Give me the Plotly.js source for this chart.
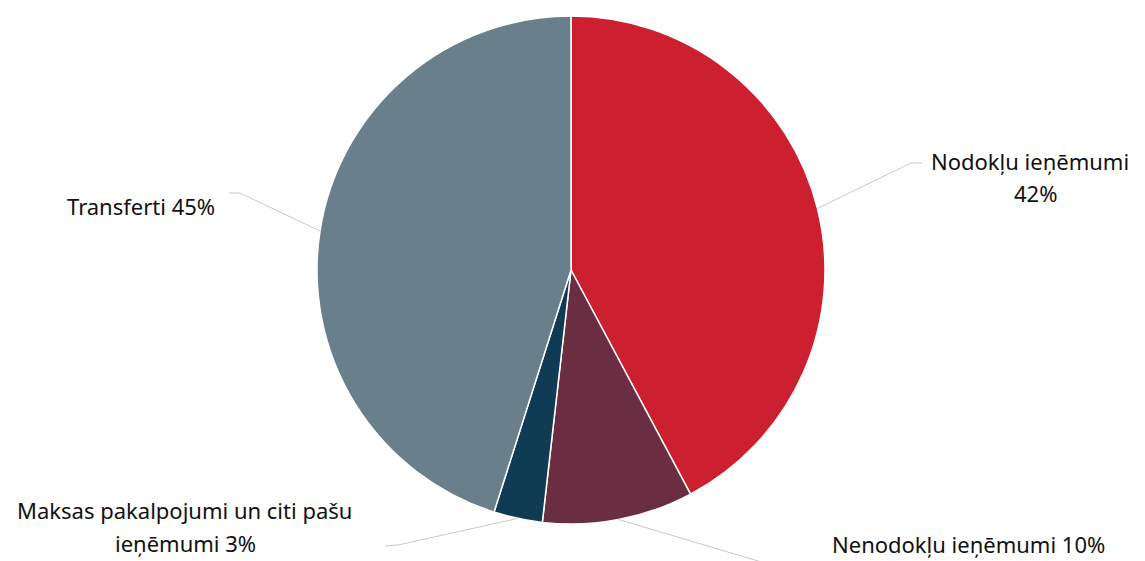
<!DOCTYPE html>
<html>
<head>
<meta charset="utf-8">
<script src="https://cdn.plot.ly/plotly-3.0.1.min.js"></script>
<style>
  html, body { margin: 0; padding: 0; background: #fff; }
  #chart { width: 1145px; height: 561px; }
</style>
</head>
<body>
<div id="chart"></div>
<script>
// Data
const categories = ['Nodokļu ieņēmumi', 'Nenodokļu ieņēmumi', 'Maksas pakalpojumi un citi pašu ieņēmumi', 'Transferti'];
const shares = [42.2, 9.6, 3.1, 45.1];
const colors = ['#CC1F30', '#6B2D42', '#0F3C54', '#6A7F8C'];

// layout constants (pixels)
const W = 1145, H = 561;
const cx = 571, cy = 270, R = 254;

const px = x => x / W;
const py = y => 1 - y / H;

// label lines of text, and where leader lines bend / end, per slice
const labelLines = [
    [{ t: 'Nodokļu ieņēmumi', x: 1030, y: 161 }, { t: '42%', x: 1035, y: 193 }],
    [{ t: 'Nenodokļu ieņēmumi 10%', x: 968, y: 544 }],
    [{ t: 'Maksas pakalpojumi un citi pašu', x: 184, y: 510 }, { t: 'ieņēmumi 3%', x: 185, y: 543 }],
    [{ t: 'Transferti 45%', x: 141, y: 206 }]
];
const elbows = [[911, 163], [775, 566], [398, 545], [240, 193]];
const ends = [[922, 163], [790, 566], [385, 546], [229, 193]];

var total = shares.reduce((a, b) => a + b, 0);

var shapes = [];
var annotations = [];
var cum = 0;
shares.forEach((v, i) => {
    // leader line starts on the rim at the middle of the slice
    var mid = (cum + v / 2) / total * 2 * Math.PI;
    cum += v;
    var ax = cx + R * Math.sin(mid);
    var ay = cy - R * Math.cos(mid);
    shapes.push({
        type: 'path',
        xref: 'paper', yref: 'paper',
        path: 'M' + px(ax) + ',' + py(ay) + ' L' + px(elbows[i][0]) + ',' + py(elbows[i][1]) +
              ' L' + px(ends[i][0]) + ',' + py(ends[i][1]),
        line: { color: '#c9c9c9', width: 1 }
    });
    labelLines[i].forEach(l => {
        annotations.push({
            xref: 'paper', yref: 'paper',
            x: px(l.x), y: py(l.y),
            xanchor: 'center', yanchor: 'middle',
            text: l.t, showarrow: false,
            font: { family: 'Noto Sans, sans-serif', size: 22, color: '#111111' }
        });
    });
});

var data = [{
    type: 'pie',
    labels: categories,
    values: shares,
    sort: false,
    direction: 'clockwise',
    rotation: 0,
    textinfo: 'none',
    hoverinfo: 'label+percent',
    marker: { colors: colors, line: { color: '#ffffff', width: 1.5 } },
    domain: { x: [px(cx - R), px(cx + R)], y: [py(cy + R), py(cy - R)] }
}];

var layout = {
    width: W,
    height: H,
    margin: { l: 0, r: 0, t: 0, b: 0 },
    showlegend: false,
    paper_bgcolor: '#ffffff',
    shapes: shapes,
    annotations: annotations
};

Plotly.newPlot('chart', data, layout, { displayModeBar: false });
</script>
</body>
</html>
